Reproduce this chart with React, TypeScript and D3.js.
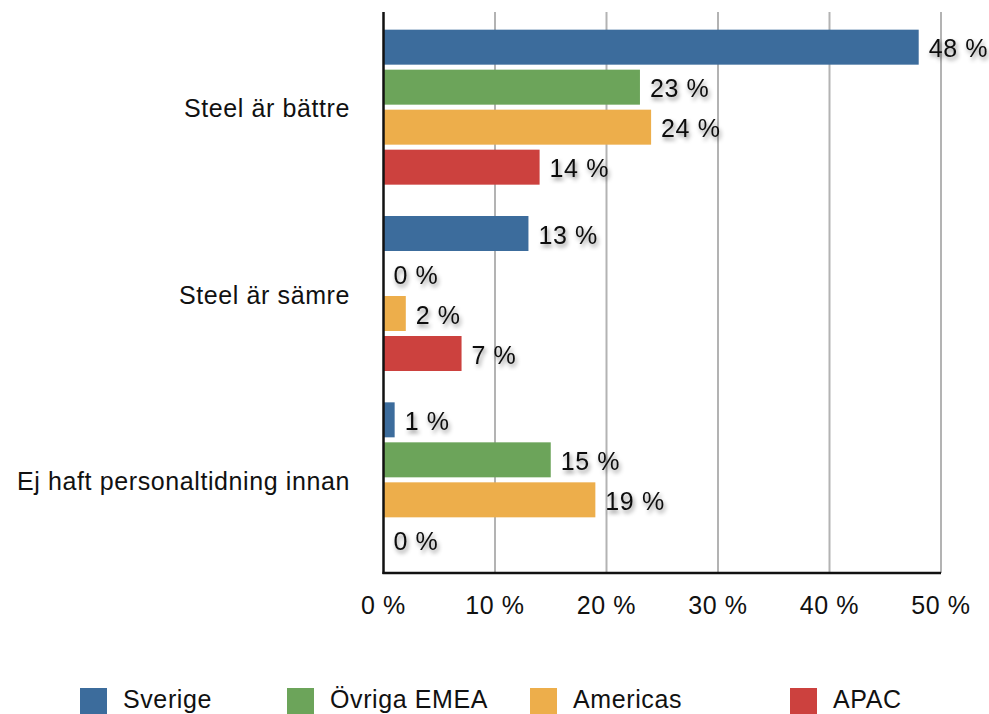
import React from "react";
import * as d3 from "d3";

const categories = ["Steel är bättre", "Steel är sämre", "Ej haft personaltidning innan"];
const seriesNames = ["Sverige", "Övriga EMEA", "Americas", "APAC"];
const seriesColors = ["#3c6c9c", "#6ca45a", "#edae4b", "#cc413e"];
const sverige = [48, 13, 1];
const ovrigaEmea = [23, 0, 15];
const americas = [24, 2, 19];
const apac = [14, 7, 0];
const xTicks = [0, 10, 20, 30, 40, 50];

const seriesValues = [sverige, ovrigaEmea, americas, apac];

const W = 989;
const H = 714;
const margin = { left: 383.5, right: 48, top: 12, bottom: 141 };
const FONT = "'Liberation Sans', Arial, Helvetica, sans-serif";
const FS = 25;
const LS = 0.6;

export default function App() {
  const x = d3.scaleLinear().domain([0, 50]).range([margin.left, W - margin.right]);
  const plotTop = margin.top;
  const plotBottom = H - margin.bottom;
  const y0 = d3.scaleBand<string>().domain(categories).range([plotTop + 2, plotBottom]).paddingInner(0);
  const groupSpan = 155;
  const y1 = d3
    .scaleBand<string>()
    .domain(seriesNames)
    .range([0, groupSpan])
    .paddingInner(0.125)
    .paddingOuter(0);
  const groupOffset = (y0.bandwidth() - groupSpan) / 2;

  const legendX = [80, 287, 530, 790];

  return (
    <svg
      width={W}
      height={H}
      viewBox={`0 0 ${W} ${H}`}
      style={{ position: "absolute", left: 0, top: 0, background: "#fff" }}
      fontFamily={FONT}
    >
      <defs>
        <filter id="labelShadow" x="-20%" y="-30%" width="150%" height="180%">
          <feDropShadow dx="1.5" dy="3" stdDeviation="2.2" floodColor="#000" floodOpacity="0.45" />
        </filter>
      </defs>

      {/* vertical gridlines */}
      {xTicks.slice(1).map((t) => (
        <line key={t} x1={x(t)} x2={x(t)} y1={plotTop} y2={plotBottom} stroke="#b3b3b3" strokeWidth={2} />
      ))}

      {/* bars with value labels */}
      {categories.map((c, ci) => (
        <g key={c} transform={`translate(0,${(y0(c) ?? 0) + groupOffset})`}>
          {seriesNames.map((s, si) => {
            const v = seriesValues[si][ci];
            const yy = y1(s) ?? 0;
            return (
              <g key={s}>
                {v > 0 && (
                  <rect
                    x={x(0)}
                    y={yy}
                    width={x(v) - x(0)}
                    height={y1.bandwidth()}
                    fill={seriesColors[si]}
                  />
                )}
                <text
                  x={x(v) + 10}
                  y={yy + y1.bandwidth() / 2 + 1}
                  dy="0.36em"
                  fontSize={FS}
                  letterSpacing={LS}
                  fill="#111"
                  filter="url(#labelShadow)"
                >
                  {`${v} %`}
                </text>
              </g>
            );
          })}
        </g>
      ))}

      {/* axes */}
      <line x1={x(0)} x2={x(0)} y1={plotTop} y2={plotBottom + 1} stroke="#111" strokeWidth={2.5} />
      <line x1={x(0) - 1} x2={x(50)} y1={plotBottom} y2={plotBottom} stroke="#111" strokeWidth={2.5} />

      {/* category labels */}
      {categories.map((c) => (
        <text
          key={c}
          x={350}
          y={(y0(c) ?? 0) + y0.bandwidth() / 2 + 1}
          dy="0.36em"
          textAnchor="end"
          fontSize={FS}
          letterSpacing={LS}
          fill="#111"
        >
          {c}
        </text>
      ))}

      {/* x tick labels */}
      {xTicks.map((t) => (
        <text
          key={t}
          x={x(t)}
          y={605}
          dy="0.36em"
          textAnchor="middle"
          fontSize={FS}
          letterSpacing={LS}
          fill="#111"
        >
          {`${t} %`}
        </text>
      ))}

      {/* legend */}
      {seriesNames.map((s, i) => (
        <g key={s} transform={`translate(${legendX[i]},688)`}>
          <rect x={0} y={0} width={27} height={28} fill={seriesColors[i]} />
          <text x={43} y={11} dy="0.36em" fontSize={FS} letterSpacing={LS} fill="#111">
            {s}
          </text>
        </g>
      ))}
    </svg>
  );
}
